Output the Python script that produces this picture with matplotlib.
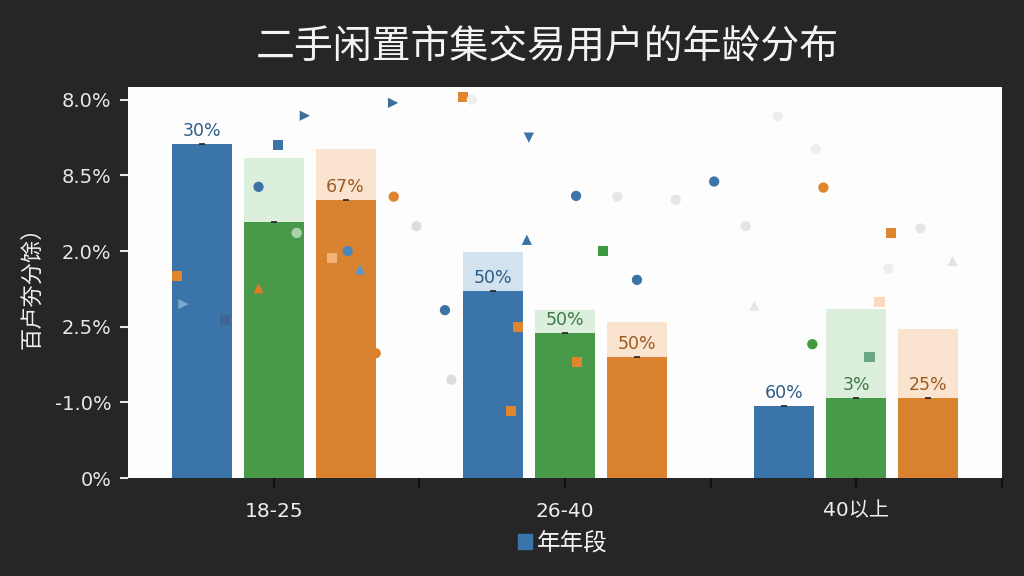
import matplotlib
matplotlib.use('Agg')
import matplotlib.pyplot as plt
import numpy as np

plt.rcParams['font.family'] = ['DejaVu Sans', 'Noto Sans CJK SC']

# data (axis units, ticks evenly spaced)
groups = ['18-25', '26-40', '40以上']
ytick_labels = ['0%', '-1.0%', '2.5%', '2.0%', '8.5%', '8.0%']

blue_solid = [4.42, 2.47, 0.95]
blue_light = [4.42, 2.99, 0.95]
green_solid = [3.39, 1.92, 1.06]
green_light = [4.23, 2.22, 2.24]
orange_solid = [3.68, 1.60, 1.06]
orange_light = [4.35, 2.06, 1.97]

blue_text = ['30%', '50%', '60%']
green_text = ['', '50%', '3%']
orange_text = ['67%', '50%', '25%']

# scattered markers
sc_x = [-0.333, -0.31, -0.168, 0.014, 0.107, 0.41, -0.052, 0.079, -0.052, 0.412,
        0.254, 0.20, 0.296, 0.35, 0.588, 0.65, 0.876, 1.038, 0.869, 1.13,
        1.247, 0.838, 1.041, 0.814, 1.512, 1.887, 2.12, 1.849, 2.045, 2.08,
        0.49, 0.61, 0.68, 1.18, 1.38, 1.62, 1.73, 1.86, 1.65, 2.22, 2.33, 2.11]
sc_y = [2.67, 2.30, 2.09, 4.40, 4.79, 4.96, 3.85, 3.24, 2.51, 3.72,
        3.00, 2.91, 2.76, 1.65, 2.22, 5.04, 4.50, 3.73, 3.15, 3.00,
        2.62, 2.00, 1.53, 0.89, 3.92, 3.84, 3.24, 1.77, 1.60, 2.33,
        3.33, 1.30, 5.00, 3.72, 3.68, 3.33, 4.78, 4.35, 2.28, 3.30, 2.87, 2.77]
sc_marker = ['s', '>', 's', 's', '>', '>', 'o', 'o', '^', 'o',
             'o', 's', '^', 'o', 'o', 's', 'v', 'o', '^', 's',
             'o', 's', 's', 's', 'o', 'o', 's', 'o', 's', 's',
             'o', 'o', 'o', 'o', 'o', 'o', 'o', 'o', '^', 'o', '^', 'o']
sc_color = ['#e0842e', '#7ea7cc', '#3d6592', '#3c74a8', '#3c6f9c', '#3c6f9c', '#3c74a8', '#a9d3a9', '#e0782a', '#e0842e',
            '#4a86bb', '#f2b377', '#5d99c6', '#d9822b', '#3c74a8', '#e0842e', '#3c74a8', '#3c74a8', '#3c74a8', '#3f9a3f',
            '#3c74a8', '#e0842e', '#e0842e', '#e0842e', '#3c74a8', '#e0842e', '#e0842e', '#3f9a3f', '#6aa683', '#f9d9c0',
            '#dddddd', '#dddddd', '#eeeeee', '#e6e6e6', '#e6e6e6', '#e6e6e6', '#eeeeee', '#eeeeee', '#e6e6e6', '#e6e6e6',
            '#e2e2e2', '#eeeeee']

blue = '#3a74a8'
green = '#48994a'
orange = '#d9822f'

fig = plt.figure(figsize=(10.24, 5.76), dpi=100, facecolor='#262626')
ax = fig.add_axes([0.125, 0.170, 0.8535, 0.679])
ax.set_facecolor('#fdfdfd')

x = np.arange(len(groups))
w = 0.206
off = 0.247

series = [
    (-off, blue_solid, blue_light, blue, '#d3e2ef', blue_text, '#2d5c88'),
    (0, green_solid, green_light, green, '#dcefdc', green_text, '#3b7a46'),
    (off, orange_solid, orange_light, orange, '#fbe4cf', orange_text, '#9c5a24'),
]

for dx, solid, light, col, lcol, txt, tcol in series:
    ax.bar(x + dx, light, w, color=lcol, zorder=2)
    ax.bar(x + dx, solid, w, color=col, zorder=3)
    ax.scatter(x + dx, solid, marker='_', s=20, color='#222222', linewidths=1.2, zorder=4)
    for xi, yi, t in zip(x + dx, solid, txt):
        if t:
            ax.annotate(t, (xi, yi), xytext=(0, 3), textcoords='offset points',
                        ha='center', va='bottom', fontsize=12.5, color=tcol, zorder=6)

for xi, yi, m, c in zip(sc_x, sc_y, sc_marker, sc_color):
    ax.scatter(xi, yi, marker=m, s=55, color=c, edgecolors='none', zorder=5)

ax.set_xlim(-0.5, 2.5)
ax.set_ylim(0, 5.17)
ax.set_yticks(np.arange(len(ytick_labels)))
ax.set_yticklabels(ytick_labels)
ax.set_xticks(x)
ax.set_xticklabels(groups)
ax.set_xticks([0.5, 1.5, 2.5], minor=True)
ax.tick_params(axis='y', colors='#e8e8e8', labelsize=14, length=6, width=1.5, pad=6)
ax.tick_params(axis='x', which='both', color='#111111', labelcolor='#eeeeee',
               labelsize=14.5, length=7, width=1.5, pad=10)
for s in ax.spines.values():
    s.set_visible(False)

ax.set_ylabel('百卢夯分馀）', fontsize=16, color='#f0f0f0', labelpad=8,
              family=['Noto Sans CJK SC', 'DejaVu Sans'])

fig.text(0.535, 0.92, '二手闲置市集交易用户的年龄分布', ha='center', va='center',
         fontsize=28, color='#f4f4f4', family=['Noto Sans CJK SC', 'DejaVu Sans'])

h = plt.Rectangle((0, 0), 1, 1, color=blue)
leg = fig.legend([h], ['年年段'], loc='center', bbox_to_anchor=(0.55, 0.057), frameon=False,
                 prop={'family': ['Noto Sans CJK SC', 'DejaVu Sans'], 'size': 17},
                 handlelength=0.6, handleheight=0.6, handletextpad=0.2)
for t in leg.get_texts():
    t.set_color('#f4f4f4')

fig.savefig('out.png', dpi=100, facecolor=fig.get_facecolor())
